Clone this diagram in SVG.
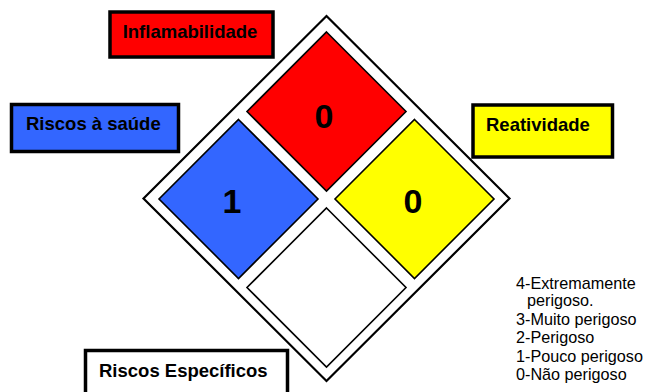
<svg xmlns="http://www.w3.org/2000/svg" width="645" height="392" viewBox="0 0 645 392">
<style>
.lbl{stroke:#000;stroke-width:3.5}
.lt{font-family:"Liberation Sans",Arial,sans-serif;font-weight:bold;font-size:18.5px;fill:#000}
.num{font-family:"Liberation Sans",Arial,sans-serif;font-weight:bold;font-size:34px;fill:#000;text-anchor:middle}
.dia{stroke:#000;stroke-width:1.6}
.leg{font-family:"Liberation Sans",Arial,sans-serif;font-size:16.2px;fill:#000}
</style>
<rect width="645" height="392" fill="#fff"/>
<g id="outer">
<polygon points="326.5,16 509.5,198.5 326.5,381 143.5,198.5" fill="#fff" stroke="#000" stroke-width="2.2"/>
</g>
<g id="flammability">
<polygon class="dia" points="326.5,32 406,111.5 326.5,191 247,111.5" fill="#ff0000"/>
<text class="num" x="324" y="128">0</text>
</g>
<g id="health">
<polygon class="dia" points="238.5,119.5 318,199 238.5,278.5 159,199" fill="#3366ff"/>
<text class="num" x="232" y="213">1</text>
</g>
<g id="reactivity">
<polygon class="dia" points="414.5,119.5 494,199 414.5,278.5 335,199" fill="#ffff00"/>
<text class="num" x="413" y="213">0</text>
</g>
<g id="special">
<polygon class="dia" points="326.5,208 406,287.5 326.5,367 247,287.5" fill="#fff"/>
</g>
<g id="label-flammability">
<rect class="lbl" x="110" y="12" width="163" height="45" fill="#ff0000"/>
<text class="lt" x="190" y="37.5" text-anchor="middle">Inflamabilidade</text>
</g>
<g id="label-health">
<rect class="lbl" x="11.5" y="104.5" width="167" height="47" fill="#3366ff"/>
<text class="lt" x="26" y="129.5">Riscos à saúde</text>
</g>
<g id="label-reactivity">
<rect class="lbl" x="473" y="105" width="139.5" height="52" fill="#ffff00"/>
<text class="lt" x="486" y="130.5">Reatividade</text>
</g>
<g id="label-special">
<rect class="lbl" x="85.5" y="350.5" width="202" height="60" fill="#fff"/>
<text class="lt" x="99" y="376.5">Riscos Específicos</text>
</g>
<g id="legend">
<text class="leg" x="516" y="289">4-Extremamente</text>
<text class="leg" x="527" y="306">perigoso.</text>
<text class="leg" x="516" y="325">3-Muito perigoso</text>
<text class="leg" x="516" y="343">2-Perigoso</text>
<text class="leg" x="516" y="362">1-Pouco perigoso</text>
<text class="leg" x="516" y="380">0-Não perigoso</text>
</g>
<g id="connectors"></g>
</svg>
